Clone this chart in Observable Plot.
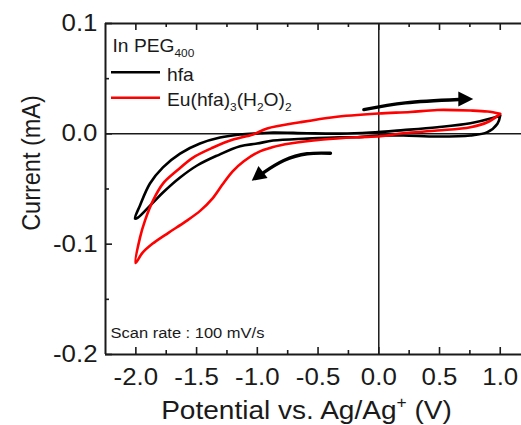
<!DOCTYPE html>
<html>
<head>
<meta charset="utf-8">
<script src="https://cdn.jsdelivr.net/npm/d3@7"></script>
<script src="https://cdn.jsdelivr.net/npm/@observablehq/plot@0.6"></script>
<style>
  html, body { margin: 0; padding: 0; background: #fff; }
  #chart { width: 521px; height: 425px; overflow: hidden; }
</style>
</head>
<body>
<div id="chart"></div>
<script>
// ---- data ----
const xDomain = [-2.25, 1.175];
const yDomain = [-0.2, 0.1];
const xTicks = [-2.0, -1.5, -1.0, -0.5, 0.0, 0.5, 1.0];
const xMinorTicks = [-1.75, -1.25, -0.75, -0.25, 0.25, 0.75];
const yTicks = [0.1, 0.0, -0.1, -0.2];
const yMinorTicks = [0.05, -0.05, -0.15];

// hfa (black): start at +1.0 V, cathodic scan to -2.0 V, then back
const blackX = [1.0, 0.977, 0.894, 0.754, 0.482, 0.202, 0.012, -0.177, -0.317, -0.589, -0.870, -1.002, -1.142, -1.331, -1.496, -1.636, -1.777, -1.859, -1.983, -2.007,
                -1.966, -1.884, -1.777, -1.636, -1.472, -1.307, -1.142, -0.977, -0.870, -0.589, -0.317, -0.070, 0.202, 0.482, 0.754, 0.944, 1.0];
const blackY = [0.0166, 0.0091, 0.0015, -0.0015, -0.0024, -0.0015, -0.0015, -0.0031, -0.0031, -0.0043, -0.0061, -0.0088, -0.0112, -0.0197, -0.0287, -0.0396, -0.0532, -0.0623, -0.0759, -0.0768,
                -0.0649, -0.0450, -0.0304, -0.0179, -0.0088, -0.0034, -0.0006, 0.0005, 0.0012, 0.0005, 0.0002, 0.0012, 0.0034, 0.0060, 0.0096, 0.0145, 0.0166];

// Eu(hfa)3(H2O)2 (red)
const redX = [1.0, 0.894, 0.754, 0.482, 0.202, 0.012, -0.177, -0.458, -0.730, -0.870, -0.999, -1.114, -1.205, -1.287, -1.370, -1.469, -1.592, -1.732, -1.864, -1.946, -2.003,
              -1.966, -1.925, -1.859, -1.777, -1.661, -1.529, -1.364, -1.199, -1.035, -0.919, -0.647, -0.375, -0.004, 0.260, 0.482, 0.754, 0.894, 1.0];
const redY = [0.0181, 0.0105, 0.0060, 0.0030, 0.0005, -0.0022, -0.0031, -0.0052, -0.0088, -0.0120, -0.0170, -0.0251, -0.0342, -0.0460, -0.0587, -0.0696, -0.0796, -0.0897, -0.0997, -0.1079, -0.1170,
              -0.0941, -0.0786, -0.0605, -0.0451, -0.0333, -0.0215, -0.0124, -0.0052, -0.0006, 0.0048, 0.0105, 0.0151, 0.0184, 0.0198, 0.0216, 0.0211, 0.0202, 0.0181];

// scan-direction arrows (last point = arrow tip)
const upArrowX = [-0.123, 0.220, 0.659, 0.782];
const upArrowY = [0.0220, 0.0281, 0.0311, 0.0311];
const lowArrowX = [-0.398, -0.590, -0.782, -0.949, -1.042];
const lowArrowY = [-0.0176, -0.0181, -0.0242, -0.0351, -0.0430];

const seriesNames = ["hfa", "Eu(hfa)_{3}(H_{2}O)_{2}"];
const seriesColors = ["#000000", "#ff0000"];
const legendTitle = "In PEG_{400}";
const scanRateNote = "Scan rate : 100 mV/s";
const xTitle = "Potential vs. Ag/Ag^{+} (V)";
const yTitle = "Current (mA)";

// ---- build ----
const pts = (xs, ys) => xs.map((x, i) => ({x, y: ys[i]}));
const fmt = d => d.toFixed(1).replace("\u2212", "-");
const W = 521, H = 425, mL = 105, mR = 0, mT = 23, mB = 71;
const plotH = H - mT - mB, plotW = W - mL - mR;
const ink = "#1a1a1a";
const textStretch = 1.1;

const arrows = [pts(upArrowX, upArrowY), pts(lowArrowX, lowArrowY)];

function overlay(index, scales) {
  const {x, y} = scales;
  const g = d3.create("svg:g");
  for (const a of arrows) {
    const n = a.length;
    const bx = x(a[n - 2].x), by = y(a[n - 2].y), tx = x(a[n - 1].x), ty = y(a[n - 1].y);
    const dx = tx - bx, dy = ty - by, L = Math.hypot(dx, dy), ux = dx / L, uy = dy / L, w = 7.5;
    g.append("path")
      .attr("d", `M${tx},${ty}L${bx - uy * w},${by + ux * w}L${bx + uy * w},${by - ux * w}Z`)
      .attr("fill", "#000");
  }
  seriesColors.forEach((c, i) => {
    const yy = mT + 49.3 + i * 25.4;
    g.append("line").attr("x1", mL + 6).attr("x2", mL + 55).attr("y1", yy).attr("y2", yy)
      .attr("stroke", c).attr("stroke-width", 2.6);
  });
  return g.node();
}

const plot = Plot.plot({
  width: W, height: H,
  marginLeft: mL, marginRight: mR, marginTop: mT, marginBottom: mB,
  style: {fontFamily: "'Liberation Sans', Arial, sans-serif", color: ink, background: "#fff"},
  x: {domain: xDomain},
  y: {domain: yDomain},
  marks: [
    Plot.ruleY([0], {stroke: ink, strokeWidth: 1.5}),
    Plot.ruleX([0], {stroke: ink, strokeWidth: 1.5}),
    Plot.ruleY(yDomain, {stroke: ink, strokeWidth: 2}),
    Plot.ruleX([xDomain[0]], {stroke: ink, strokeWidth: 2}),
    Plot.tickX(xTicks, {x: d => d, insetTop: plotH - 7, stroke: ink, strokeWidth: 1.6}),
    Plot.tickX(xMinorTicks, {x: d => d, insetTop: plotH - 4, stroke: ink, strokeWidth: 1.6}),
    Plot.tickX(xTicks, {x: d => d, insetBottom: plotH - 7, stroke: ink, strokeWidth: 1.6}),
    Plot.tickX(xMinorTicks, {x: d => d, insetBottom: plotH - 4, stroke: ink, strokeWidth: 1.6}),
    Plot.tickY(yTicks, {y: d => d, insetRight: plotW - 7, stroke: ink, strokeWidth: 1.6}),
    Plot.tickY(yMinorTicks, {y: d => d, insetRight: plotW - 4, stroke: ink, strokeWidth: 1.6}),
    Plot.axisX(xTicks, {tickSize: 0, tickPadding: 14, fontSize: 23.5, tickFormat: fmt, label: null}),
    Plot.axisY(yTicks, {tickSize: 0, tickPadding: 8, fontSize: 23.5, tickFormat: fmt, label: null}),
    Plot.text([xTitle], {text: d => d, frameAnchor: "bottom", textAnchor: "middle", dx: -7, dy: 64, lineAnchor: "bottom", fontSize: 25.5}),
    Plot.text([yTitle], {text: d => d, frameAnchor: "left", textAnchor: "middle", rotate: -90, dx: -74, dy: -26, lineAnchor: "middle", fontSize: 23.5}),
    Plot.line(pts(blackX, blackY), {x: "x", y: "y", curve: "catmull-rom", stroke: seriesColors[0], strokeWidth: 2.6}),
    Plot.line(pts(redX, redY), {x: "x", y: "y", curve: "catmull-rom", stroke: seriesColors[1], strokeWidth: 2.6}),
    Plot.line(arrows[0].slice(0, -1), {x: "x", y: "y", curve: "natural", stroke: "#000", strokeWidth: 3.4}),
    Plot.line(arrows[1].slice(0, -1), {x: "x", y: "y", curve: "natural", stroke: "#000", strokeWidth: 3.4}),
    overlay,
    Plot.text([legendTitle], {text: d => d, frameAnchor: "top-left", textAnchor: "start", lineAnchor: "bottom", dx: 7, dy: 28, fontSize: 17.5}),
    Plot.text([seriesNames[0]], {text: d => d, frameAnchor: "top-left", textAnchor: "start", lineAnchor: "bottom", dx: 61.5, dy: 57, fontSize: 17.5}),
    Plot.text([seriesNames[1]], {text: d => d, frameAnchor: "top-left", textAnchor: "start", lineAnchor: "bottom", dx: 61.5, dy: 82, fontSize: 17.5}),
    Plot.text([scanRateNote], {text: d => d, frameAnchor: "bottom-left", textAnchor: "start", lineAnchor: "bottom", dx: 5, dy: -16.5, fontSize: 15})
  ]
});

document.getElementById("chart").appendChild(plot);

// sub/superscripts: _{..} and ^{..}
(function richify(svg) {
  const ns = "http://www.w3.org/2000/svg";
  svg.querySelectorAll("text").forEach(t => {
    const s = t.textContent;
    if (!/[_^]\{/.test(s)) return;
    const fs = parseFloat(getComputedStyle(t).fontSize) || 18;
    t.textContent = "";
    let shift = 0;
    const add = (str, target) => {
      const ts = document.createElementNS(ns, "tspan");
      ts.textContent = str;
      const d = target - shift;
      if (d) ts.setAttribute("dy", d);
      if (target) ts.setAttribute("font-size", (fs * 0.62).toFixed(1));
      shift = target;
      t.appendChild(ts);
    };
    const re = /([_^])\{([^}]*)\}/g; let last = 0, m;
    while ((m = re.exec(s))) {
      if (m.index > last) add(s.slice(last, m.index), 0);
      add(m[2], m[1] === "_" ? fs * 0.33 : -fs * 0.42);
      last = re.lastIndex;
    }
    if (last < s.length) add(s.slice(last), 0);
  });
})(plot);

// the reference's lettering is slightly wide: stretch glyphs horizontally about each text anchor
(function stretch(svg) {
  svg.querySelectorAll("text").forEach(t => {
    const tr = t.getAttribute("transform");
    if (tr) {
      if (/rotate\(/.test(tr)) t.setAttribute("transform", tr.replace(/rotate\(/, `scale(${textStretch},1) rotate(`));
      else t.setAttribute("transform", `${tr} scale(${textStretch},1)`);
    } else {
      const x0 = parseFloat(t.getAttribute("x")) || 0;
      t.setAttribute("transform", `translate(${x0},0) scale(${textStretch},1) translate(${-x0},0)`);
    }
  });
})(plot);
</script>
</body>
</html>
